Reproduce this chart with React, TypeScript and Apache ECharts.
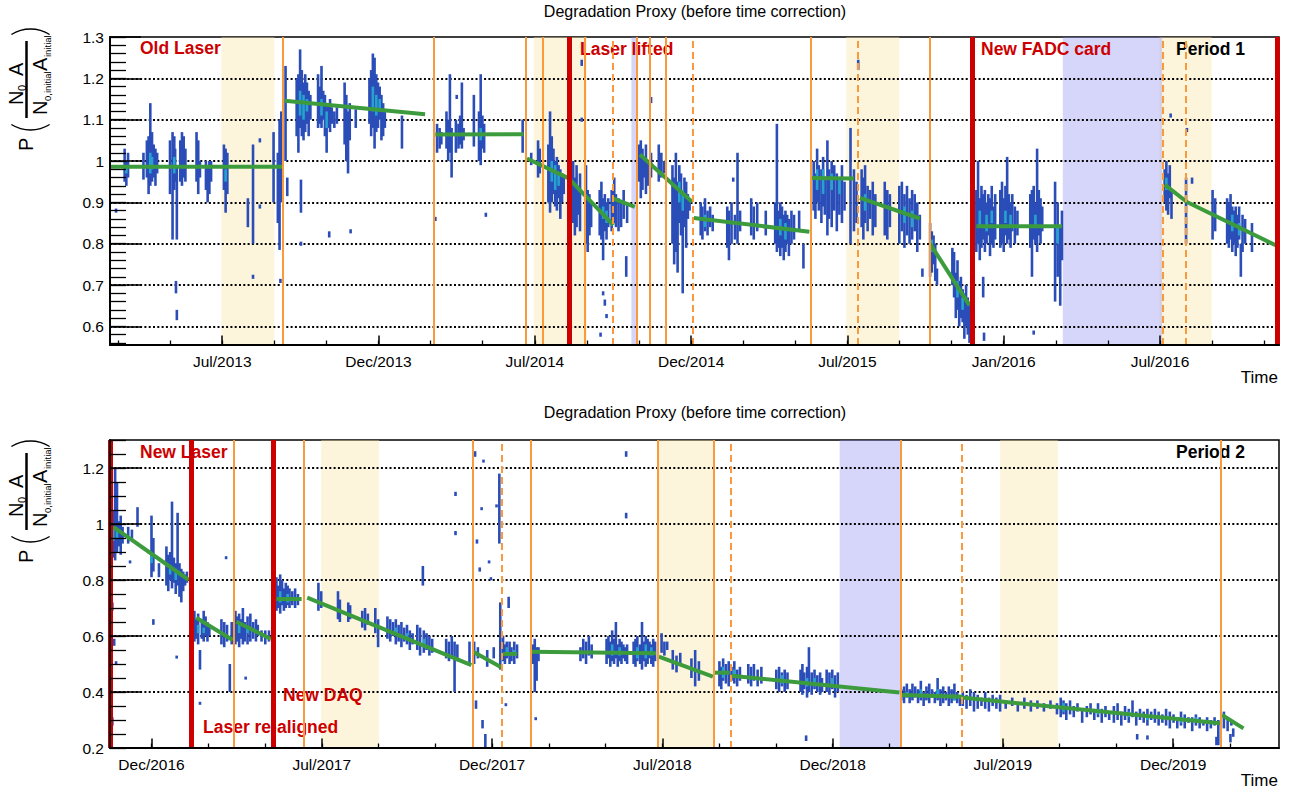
import React, { useEffect, useRef } from 'react';
import * as echarts from 'echarts';

type Streak = [string, number, number];
type Fit = [string, number, string, number];

const FONT = '"Liberation Sans", Arial, Helvetica, sans-serif';
const GREEN = '#3c9b3c';
const RED = '#cc0000';
const ORANGE = '#f99a3d';
const DARK = '#2a4db8';
const CORE = '#27a2cf';
const YELLOW_BAND = 'rgba(249,228,160,0.38)';
const BLUE_BAND = 'rgba(140,140,245,0.36)';

// ---------------- Period 1 (top) ----------------
const P1_X_RANGE: [string, string] = ['2013-02-20T22:00', '2016-11-17T14:00'];
const P1_X_TICKS = ['2013-07-02T00:00', '2013-12-31T14:24', '2014-07-02T04:48', '2014-12-31T19:12', '2015-07-02T09:36', '2016-01-01T00:00', '2016-07-01T14:24'];
const P1_X_LABELS = ['Jul/2013', 'Dec/2013', 'Jul/2014', 'Dec/2014', 'Jul/2015', 'Jan/2016', 'Jul/2016'];
const P1_Y_RANGE: [number, number] = [0.555, 1.3];
const P1_Y_LABELS = [0.6, 0.7, 0.8, 0.9, 1.0, 1.1, 1.2, 1.3];
const P1_GRID_LINES = [0.6, 0.7, 0.8, 0.9, 1.0, 1.1, 1.2];
const P1_RED_LINES = ['2014-08-12', '2015-11-25', '2016-11-16'];
const P1_ORANGE_LINES = ['2013-09-11', '2014-03-06', '2014-06-22', '2014-07-12', '2014-08-30', '2014-10-29', '2014-11-13', '2014-12-02', '2015-05-20', '2015-10-06'];
const P1_DASHED_LINES = ['2014-10-01', '2015-01-03', '2015-07-15', '2016-07-05', '2016-08-01'];
const P1_SUMMER_BANDS: [string, string][] = [['2013-07-01', '2013-09-01'], ['2014-07-01', '2014-09-01'], ['2015-07-01', '2015-09-01'], ['2016-07-01', '2016-08-31']];
const P1_PAUSE_BANDS: [string, string][] = [['2014-10-23', '2014-10-29'], ['2016-03-10', '2016-07-04']];
const P1_FITS: Fit[] = [
  ['2013-02-22', 0.986, '2013-09-10', 0.986],
  ['2013-09-13', 1.146, '2014-02-24', 1.113],
  ['2014-03-08', 1.064, '2014-06-19', 1.065],
  ['2014-06-23', 1.006, '2014-08-11', 0.958],
  ['2014-08-13', 0.953, '2014-10-02', 0.845],
  ['2014-10-02', 0.909, '2014-10-27', 0.889],
  ['2014-11-02', 1.016, '2015-01-02', 0.901],
  ['2015-01-04', 0.862, '2015-05-19', 0.829],
  ['2015-05-22', 0.959, '2015-07-10', 0.958],
  ['2015-07-17', 0.911, '2015-09-25', 0.861],
  ['2015-10-07', 0.800, '2015-11-22', 0.651],
  ['2015-11-30', 0.842, '2016-03-09', 0.842],
  ['2016-07-07', 0.943, '2016-08-02', 0.901],
  ['2016-08-02', 0.901, '2016-11-15', 0.795],
];
const P1_STREAKS: Streak[] = [
  ['2013-02-28', 0.875, 0.885],
  ['2013-03-10', 0.95, 1.03], ['2013-03-12', 0.94, 1.0], ['2013-03-14', 0.96, 1.02],
  ['2013-04-01', 0.955, 1.02],
  ['2013-04-05', 0.96, 1.05], ['2013-04-07', 0.92, 1.06], ['2013-04-09', 0.94, 1.14], ['2013-04-11', 0.95, 1.07], ['2013-04-13', 0.96, 1.04], ['2013-04-15', 0.94, 1.03], ['2013-04-17', 0.97, 1.02],
  ['2013-05-02', 0.92, 1.05], ['2013-05-05', 0.81, 1.07], ['2013-05-07', 0.93, 1.06], ['2013-05-08', 0.95, 1.03], ['2013-05-09', 0.68, 0.71], ['2013-05-10', 0.81, 0.99], ['2013-05-10', 0.615, 0.64],
  ['2013-05-14', 0.95, 1.05], ['2013-05-16', 0.94, 1.07], ['2013-05-18', 0.96, 1.06], ['2013-05-20', 0.95, 1.03],
  ['2013-06-02', 0.95, 1.07], ['2013-06-04', 0.92, 1.05], ['2013-06-06', 0.96, 1.0],
  ['2013-06-13', 0.93, 1.0], ['2013-06-15', 0.9, 0.99], ['2013-06-17', 0.92, 1.0], ['2013-06-19', 0.95, 1.0],
  ['2013-07-04', 0.93, 1.04], ['2013-07-06', 0.875, 1.03], ['2013-07-08', 0.92, 1.02],
  ['2013-08-01', 0.84, 0.91], ['2013-08-07', 0.8, 1.04], ['2013-08-07', 0.715, 0.725], ['2013-08-15', 1.045, 1.055], ['2013-08-15', 0.885, 0.895], ['2013-08-31', 0.9, 1.07],
  ['2013-09-05', 0.85, 1.02], ['2013-09-07', 0.785, 1.1], ['2013-09-08', 0.705, 0.715], ['2013-09-09', 0.9, 1.12],
  ['2013-09-14', 1.0, 1.23], ['2013-09-16', 0.915, 0.96],
  ['2013-09-27', 1.06, 1.2], ['2013-09-29', 1.02, 1.21], ['2013-10-01', 1.08, 1.27], ['2013-10-02', 0.875, 0.955], ['2013-10-02', 0.795, 0.805], ['2013-10-03', 1.06, 1.22], ['2013-10-05', 1.05, 1.19], ['2013-10-07', 1.07, 1.21], ['2013-10-09', 1.09, 1.19], ['2013-10-11', 1.06, 1.17], ['2013-10-13', 1.1, 1.16],
  ['2013-10-22', 1.08, 1.21], ['2013-10-24', 1.09, 1.18], ['2013-10-26', 1.08, 1.23], ['2013-10-28', 1.1, 1.17], ['2013-10-30', 1.06, 1.16], ['2013-11-01', 1.02, 1.14], ['2013-11-03', 1.08, 1.14], ['2013-11-04', 0.815, 0.83], ['2013-11-05', 1.07, 1.15], ['2013-11-07', 1.09, 1.13], ['2013-11-10', 1.08, 1.12], ['2013-11-13', 1.09, 1.13],
  ['2013-11-22', 1.04, 1.19], ['2013-11-24', 1.0, 1.16], ['2013-11-26', 0.97, 1.12], ['2013-11-28', 1.05, 1.14], ['2013-11-29', 0.825, 0.835], ['2013-12-05', 1.08, 1.125],
  ['2013-12-21', 1.09, 1.2], ['2013-12-23', 1.06, 1.22], ['2013-12-25', 1.08, 1.26], ['2013-12-27', 1.03, 1.25], ['2013-12-29', 1.07, 1.21], ['2013-12-31', 1.08, 1.19], ['2014-01-02', 1.1, 1.18], ['2014-01-04', 1.05, 1.16], ['2014-01-06', 1.06, 1.14], ['2014-01-08', 1.08, 1.12],
  ['2014-01-28', 1.03, 1.11],
  ['2014-03-08', 0.855, 0.865], ['2014-03-10', 1.02, 1.09], ['2014-03-13', 1.03, 1.08], ['2014-03-15', 1.04, 1.07],
  ['2014-03-21', 1.03, 1.12], ['2014-03-23', 1.0, 1.1], ['2014-03-25', 1.02, 1.21], ['2014-03-27', 0.96, 1.08],
  ['2014-04-01', 1.02, 1.1], ['2014-04-02', 1.15, 1.16], ['2014-04-04', 1.03, 1.09], ['2014-04-06', 1.04, 1.11], ['2014-04-08', 1.03, 1.19], ['2014-04-10', 1.05, 1.08],
  ['2014-04-22', 1.035, 1.16],
  ['2014-04-28', 1.0, 1.12], ['2014-04-30', 0.99, 1.21], ['2014-05-02', 1.03, 1.11], ['2014-05-04', 1.02, 1.09], ['2014-05-06', 0.865, 0.875],
  ['2014-06-18', 1.02, 1.1],
  ['2014-06-28', 0.99, 1.02], ['2014-07-06', 0.96, 1.05], ['2014-07-08', 0.97, 1.03],
  ['2014-07-18', 0.9, 1.04], ['2014-07-20', 0.875, 1.12], ['2014-07-22', 0.9, 1.06], ['2014-07-24', 0.92, 1.03], ['2014-07-26', 0.89, 1.0], ['2014-07-28', 0.88, 1.01], ['2014-07-30', 0.91, 0.99], ['2014-08-01', 0.86, 0.98], ['2014-08-03', 0.9, 0.97], ['2014-08-05', 0.92, 0.96],
  ['2014-08-16', 0.85, 1.0], ['2014-08-18', 0.82, 0.96], ['2014-08-20', 0.84, 0.99], ['2014-08-22', 0.87, 0.94], ['2014-08-24', 0.83, 0.97], ['2014-08-26', 1.095, 1.105], ['2014-08-26', 1.23, 1.245],
  ['2014-08-31', 0.8, 0.99], ['2014-09-02', 0.78, 0.93], ['2014-09-04', 0.82, 0.92], ['2014-09-06', 0.84, 0.9],
  ['2014-09-16', 0.82, 0.93], ['2014-09-18', 0.81, 0.95], ['2014-09-20', 0.76, 0.91], ['2014-09-22', 0.83, 0.92], ['2014-09-24', 0.81, 0.9], ['2014-09-26', 0.84, 0.91], ['2014-09-20', 0.675, 0.685], ['2014-09-22', 0.65, 0.665], ['2014-09-24', 0.62, 0.63], ['2014-09-17', 0.575, 0.585],
  ['2014-09-30', 0.83, 0.93], ['2014-10-03', 0.85, 0.96], ['2014-10-05', 0.84, 0.92], ['2014-10-08', 0.83, 0.91], ['2014-10-11', 0.84, 0.9], ['2014-10-14', 0.86, 0.93], ['2014-10-17', 0.72, 0.77], ['2014-10-18', 0.85, 0.9],
  ['2014-11-01', 0.95, 1.04], ['2014-11-03', 0.91, 1.05], ['2014-11-05', 0.93, 1.03], ['2014-11-07', 0.96, 1.01], ['2014-11-09', 0.92, 1.04], ['2014-11-11', 0.94, 1.0], ['2014-11-15', 0.96, 1.02], ['2014-11-15', 1.14, 1.155],
  ['2014-11-24', 0.95, 1.04], ['2014-11-27', 0.96, 1.02], ['2014-11-30', 0.97, 1.0],
  ['2014-12-10', 0.8, 0.99], ['2014-12-12', 0.75, 0.96], ['2014-12-14', 0.78, 1.02], ['2014-12-16', 0.73, 0.95], ['2014-12-18', 0.85, 0.99], ['2014-12-20', 0.82, 0.97], ['2014-12-22', 0.68, 0.93], ['2014-12-24', 0.84, 0.96], ['2014-12-26', 0.79, 0.95], ['2014-12-28', 0.86, 0.92], ['2014-12-30', 0.88, 0.91],
  ['2015-01-12', 0.82, 0.9], ['2015-01-14', 0.81, 0.89], ['2015-01-17', 0.83, 0.91], ['2015-01-20', 0.82, 0.88], ['2015-01-23', 0.84, 0.89], ['2015-01-26', 0.83, 0.87],
  ['2015-02-12', 0.79, 0.89], ['2015-02-14', 0.76, 0.88], ['2015-02-17', 0.8, 0.9], ['2015-02-19', 0.95, 0.96], ['2015-02-21', 0.81, 0.87], ['2015-02-24', 0.8, 1.02], ['2015-02-27', 0.83, 0.88],
  ['2015-03-12', 0.82, 0.91], ['2015-03-15', 0.81, 0.89], ['2015-03-19', 0.83, 0.9], ['2015-03-29', 0.82, 0.88],
  ['2015-04-09', 0.8, 0.9], ['2015-04-11', 0.78, 1.09], ['2015-04-13', 0.79, 0.88], ['2015-04-15', 0.77, 0.9], ['2015-04-17', 0.79, 0.89], ['2015-04-19', 0.76, 0.87], ['2015-04-21', 0.78, 0.88], ['2015-04-23', 0.8, 0.87], ['2015-04-25', 0.77, 0.86], ['2015-04-28', 0.8, 0.88], ['2015-05-01', 0.81, 0.87],
  ['2015-05-07', 0.83, 0.88], ['2015-05-12', 0.74, 0.8],
  ['2015-05-24', 0.88, 1.0], ['2015-05-26', 0.86, 0.97], ['2015-05-28', 0.9, 1.03], ['2015-05-30', 0.88, 0.99], ['2015-06-02', 0.85, 0.98], ['2015-06-04', 0.89, 1.01], ['2015-06-06', 0.87, 0.96], ['2015-06-09', 0.82, 1.05], ['2015-06-11', 0.86, 0.98], ['2015-06-14', 0.84, 1.0], ['2015-06-17', 0.88, 0.99], ['2015-06-20', 0.83, 0.97], ['2015-06-23', 0.87, 0.96], ['2015-06-26', 0.85, 0.99], ['2015-06-29', 0.88, 0.95],
  ['2015-07-06', 0.8, 1.08], ['2015-07-10', 0.83, 0.98], ['2015-07-13', 0.85, 0.95], ['2015-07-15', 1.22, 1.245],
  ['2015-07-19', 0.84, 0.98], ['2015-07-21', 0.81, 0.96], ['2015-07-23', 0.85, 0.99], ['2015-07-26', 0.83, 0.94], ['2015-07-29', 0.86, 0.93], ['2015-08-01', 0.82, 0.95], ['2015-08-04', 0.84, 0.92],
  ['2015-08-15', 0.82, 0.95], ['2015-08-18', 0.81, 0.93], ['2015-08-21', 0.84, 0.92],
  ['2015-09-01', 0.8, 0.94], ['2015-09-04', 0.83, 0.95], ['2015-09-07', 0.79, 0.92], ['2015-09-10', 0.82, 0.94], ['2015-09-13', 0.8, 0.91], ['2015-09-16', 0.81, 0.93], ['2015-09-19', 0.83, 0.92], ['2015-09-22', 0.78, 0.9], ['2015-09-25', 0.81, 0.87], ['2015-09-28', 0.72, 0.74],
  ['2015-10-07', 0.72, 0.85], ['2015-10-09', 0.73, 0.83], ['2015-10-11', 0.75, 0.82], ['2015-10-13', 0.71, 0.8], ['2015-10-15', 0.7, 0.74],
  ['2015-11-02', 0.7, 0.79], ['2015-11-04', 0.67, 0.78], ['2015-11-06', 0.62, 0.73], ['2015-11-08', 0.64, 0.76], ['2015-11-10', 0.6, 0.71], ['2015-11-12', 0.62, 0.72], ['2015-11-14', 0.61, 0.69], ['2015-11-16', 0.57, 0.68], ['2015-11-18', 0.6, 0.7], ['2015-11-20', 0.58, 0.67], ['2015-11-22', 0.56, 0.66],
  ['2015-11-30', 0.78, 0.93], ['2015-12-02', 0.8, 1.0], ['2015-12-04', 0.76, 0.91], ['2015-12-06', 0.79, 0.94], ['2015-12-08', 0.67, 0.72], ['2015-12-08', 0.81, 0.92], ['2015-12-09', 0.565, 0.585], ['2015-12-10', 0.78, 0.93], ['2015-12-12', 0.8, 0.9], ['2015-12-14', 0.82, 0.92], ['2015-12-16', 0.77, 0.91], ['2015-12-18', 0.8, 0.94], ['2015-12-20', 0.79, 0.89], ['2015-12-22', 0.81, 0.92],
  ['2015-12-28', 0.79, 0.93], ['2015-12-30', 0.8, 0.95], ['2016-01-01', 0.78, 0.91], ['2016-01-03', 0.82, 0.94], ['2016-01-05', 0.8, 1.01], ['2016-01-07', 0.81, 0.92], ['2016-01-09', 0.79, 0.9], ['2016-01-11', 0.83, 0.92], ['2016-01-14', 0.8, 0.89], ['2016-01-17', 0.82, 0.88],
  ['2016-02-01', 0.79, 0.92], ['2016-02-03', 0.72, 0.93], ['2016-02-05', 0.81, 0.94], ['2016-02-05', 0.58, 0.59], ['2016-02-07', 0.8, 0.9], ['2016-02-09', 0.78, 1.03], ['2016-02-11', 0.82, 0.93], ['2016-02-13', 0.8, 0.91], ['2016-02-15', 0.83, 0.89],
  ['2016-03-01', 0.66, 0.95], ['2016-03-04', 0.72, 0.9], ['2016-03-07', 0.65, 0.84], ['2016-03-09', 0.76, 0.88],
  ['2016-07-07', 0.9, 0.98], ['2016-07-09', 0.88, 1.0], ['2016-07-11', 0.87, 0.97], ['2016-07-13', 0.91, 0.99], ['2016-07-14', 1.105, 1.115], ['2016-07-15', 0.86, 0.93],
  ['2016-08-01', 0.8, 0.96], ['2016-08-02', 1.07, 1.08], ['2016-08-08', 0.945, 0.96],
  ['2016-09-01', 0.81, 0.93], ['2016-09-04', 0.83, 0.91],
  ['2016-09-18', 0.8, 0.91], ['2016-09-20', 0.79, 0.9], ['2016-09-22', 0.81, 0.92], ['2016-09-24', 0.78, 0.89], ['2016-09-26', 0.8, 0.88], ['2016-09-28', 0.77, 0.89], ['2016-09-30', 0.79, 0.87], ['2016-10-02', 0.81, 0.89], ['2016-10-04', 0.72, 0.8], ['2016-10-06', 0.78, 0.87], ['2016-10-09', 0.8, 0.86],
  ['2016-10-17', 0.78, 0.85],
];
const P1_CORES: Streak[] = [
  ['2013-03-12', 0.97, 0.99], ['2013-04-09', 0.97, 1.02], ['2013-04-11', 0.98, 1.01], ['2013-05-07', 0.97, 1.01], ['2013-07-06', 0.95, 0.98],
  ['2013-10-01', 1.11, 1.17], ['2013-10-05', 1.1, 1.16], ['2013-10-09', 1.12, 1.15], ['2013-10-26', 1.11, 1.15], ['2013-11-01', 1.08, 1.12],
  ['2013-12-25', 1.12, 1.18], ['2013-12-29', 1.11, 1.16], ['2014-01-02', 1.12, 1.15], ['2014-04-30', 1.05, 1.08],
  ['2014-07-22', 0.95, 1.0], ['2014-07-26', 0.93, 0.99], ['2014-07-30', 0.94, 0.97], ['2014-09-20', 0.86, 0.89], ['2014-09-24', 0.85, 0.88],
  ['2014-12-18', 0.9, 0.95], ['2014-12-22', 0.88, 0.93], ['2015-01-17', 0.84, 0.87], ['2015-04-15', 0.82, 0.86], ['2015-04-21', 0.81, 0.85],
  ['2015-05-28', 0.93, 0.98], ['2015-06-04', 0.92, 0.98], ['2015-06-14', 0.93, 0.97], ['2015-06-23', 0.92, 0.96], ['2015-07-23', 0.88, 0.92],
  ['2015-09-07', 0.85, 0.89], ['2015-09-16', 0.84, 0.88], ['2015-10-09', 0.78, 0.81], ['2015-11-08', 0.67, 0.71], ['2015-11-14', 0.64, 0.67],
  ['2015-12-04', 0.84, 0.88], ['2015-12-12', 0.83, 0.87], ['2015-12-18', 0.85, 0.88], ['2016-01-03', 0.85, 0.88], ['2016-01-09', 0.84, 0.87],
  ['2016-02-07', 0.84, 0.87], ['2016-03-04', 0.8, 0.84], ['2016-07-09', 0.93, 0.96], ['2016-09-24', 0.83, 0.87], ['2016-10-02', 0.82, 0.85],
];

// ---------------- Period 2 (bottom) ----------------
const P2_X_RANGE: [string, string] = ['2016-11-16T12:00', '2020-04-23T02:00'];
const P2_X_TICKS = ['2016-12-31T00:00', '2017-07-01T14:24', '2017-12-31T04:48', '2018-07-01T19:12', '2018-12-31T09:36', '2019-07-02T00:00', '2019-12-31T14:24'];
const P2_X_LABELS = ['Dec/2016', 'Jul/2017', 'Dec/2017', 'Jul/2018', 'Dec/2018', 'Jul/2019', 'Dec/2019'];
const P2_Y_RANGE: [number, number] = [0.2, 1.3];
const P2_Y_LABELS = [0.2, 0.4, 0.6, 0.8, 1.0, 1.2];
const P2_GRID_LINES = [0.4, 0.6, 0.8, 1.0, 1.2];
const P2_RED_LINES = ['2016-11-17', '2017-02-12', '2017-05-11'];
const P2_ORANGE_LINES = ['2017-03-29', '2017-06-12', '2017-12-10', '2018-02-11', '2018-06-27', '2018-08-26', '2019-03-14', '2020-02-21'];
const P2_DASHED_LINES = ['2018-01-11', '2018-09-13', '2019-05-19'];
const P2_SUMMER_BANDS: [string, string][] = [['2017-07-01', '2017-09-01'], ['2018-06-27', '2018-08-26'], ['2019-06-29', '2019-08-30']];
const P2_PAUSE_BANDS: [string, string][] = [['2019-01-08', '2019-03-14']];
const P2_FITS: Fit[] = [
  ['2016-11-20', 0.99, '2017-02-09', 0.8],
  ['2017-02-17', 0.665, '2017-03-28', 0.586],
  ['2017-04-01', 0.651, '2017-05-08', 0.589],
  ['2017-05-14', 0.732, '2017-06-10', 0.732],
  ['2017-06-16', 0.737, '2017-12-09', 0.496],
  ['2017-12-11', 0.544, '2018-01-10', 0.488],
  ['2018-01-12', 0.536, '2018-01-27', 0.536],
  ['2018-02-12', 0.544, '2018-06-25', 0.538],
  ['2018-06-28', 0.526, '2018-08-25', 0.455],
  ['2018-08-27', 0.469, '2018-09-12', 0.469],
  ['2018-09-14', 0.458, '2019-03-13', 0.398],
  ['2019-03-15', 0.389, '2019-05-19', 0.383],
  ['2019-05-19', 0.38, '2020-02-20', 0.288],
  ['2020-02-22', 0.318, '2020-03-16', 0.27],
];
const P2_STREAKS: Streak[] = [
  ['2016-11-18', 0.86, 1.02], ['2016-11-20', 0.88, 1.05], ['2016-11-22', 0.87, 1.2], ['2016-11-24', 0.9, 1.15], ['2016-11-26', 0.92, 1.01], ['2016-11-28', 0.89, 1.03], ['2016-11-30', 0.93, 0.99],
  ['2016-11-19', 0.69, 0.72], ['2016-11-21', 0.565, 0.59], ['2016-11-23', 0.5, 0.51], ['2016-11-19', 0.28, 0.31],
  ['2016-12-06', 0.93, 0.99], ['2016-12-08', 0.86, 0.87], ['2016-12-10', 0.94, 0.98], ['2016-12-16', 0.99, 1.06],
  ['2016-12-31', 0.81, 1.03], ['2017-01-02', 0.83, 0.95], ['2017-01-02', 0.64, 0.66], ['2017-01-08', 0.81, 0.86],
  ['2017-01-16', 0.78, 0.92], ['2017-01-18', 0.76, 0.89], ['2017-01-20', 0.8, 0.9], ['2017-01-22', 0.77, 1.08], ['2017-01-24', 0.79, 0.88], ['2017-01-26', 0.75, 0.86], ['2017-01-27', 0.52, 0.53], ['2017-01-28', 0.78, 1.04], ['2017-01-30', 0.74, 0.86], ['2017-02-01', 0.72, 0.84], ['2017-02-03', 0.76, 0.83], ['2017-02-05', 0.78, 0.82], ['2017-02-07', 0.79, 0.83],
  ['2017-02-15', 0.58, 0.69], ['2017-02-17', 0.59, 0.66], ['2017-02-19', 0.57, 0.68], ['2017-02-21', 0.48, 0.55], ['2017-02-21', 0.355, 0.365], ['2017-02-23', 0.59, 0.66], ['2017-02-25', 0.58, 0.69], ['2017-02-27', 0.6, 0.67], ['2017-03-01', 0.58, 0.65], ['2017-03-03', 0.6, 0.64],
  ['2017-03-16', 0.57, 0.66], ['2017-03-19', 0.56, 0.65], ['2017-03-21', 0.875, 0.885], ['2017-03-22', 0.58, 0.64], ['2017-03-25', 0.4, 0.5], ['2017-03-27', 0.57, 0.65],
  ['2017-03-31', 0.57, 0.69], ['2017-04-02', 0.58, 0.67], ['2017-04-04', 0.56, 0.68], ['2017-04-06', 0.59, 0.66], ['2017-04-08', 0.57, 0.7], ['2017-04-10', 0.58, 0.65], ['2017-04-11', 0.445, 0.455], ['2017-04-13', 0.57, 0.67], ['2017-04-16', 0.58, 0.68], ['2017-04-19', 0.59, 0.65], ['2017-04-22', 0.58, 0.66], ['2017-04-24', 0.6, 0.64],
  ['2017-04-28', 0.58, 0.62], ['2017-05-02', 0.57, 0.62], ['2017-05-06', 0.58, 0.62],
  ['2017-05-14', 0.69, 0.81], ['2017-05-16', 0.7, 0.78], ['2017-05-18', 0.68, 0.82], ['2017-05-20', 0.71, 0.8], ['2017-05-22', 0.69, 0.77], ['2017-05-24', 0.7, 0.79], ['2017-05-26', 0.71, 0.78], ['2017-05-28', 0.7, 0.77], ['2017-05-31', 0.71, 0.76], ['2017-06-03', 0.7, 0.77], ['2017-06-06', 0.71, 0.75],
  ['2017-06-28', 0.69, 0.79], ['2017-07-01', 0.7, 0.76], ['2017-07-19', 0.66, 0.76], ['2017-07-21', 0.65, 0.73], ['2017-07-30', 0.65, 0.72], ['2017-08-01', 0.66, 0.71],
  ['2017-08-14', 0.63, 0.69], ['2017-08-17', 0.62, 0.7], ['2017-08-20', 0.64, 0.68], ['2017-08-28', 0.61, 0.7], ['2017-08-31', 0.56, 0.66],
  ['2017-09-10', 0.59, 0.67], ['2017-09-13', 0.58, 0.66], ['2017-09-16', 0.6, 0.65], ['2017-09-19', 0.57, 0.66], ['2017-09-22', 0.58, 0.64], ['2017-09-25', 0.56, 0.65], ['2017-09-28', 0.58, 0.63], ['2017-10-01', 0.57, 0.64], ['2017-10-04', 0.55, 0.62], ['2017-10-07', 0.57, 0.61],
  ['2017-10-12', 0.55, 0.64], ['2017-10-15', 0.53, 0.63], ['2017-10-18', 0.78, 0.85], ['2017-10-19', 0.54, 0.62], ['2017-10-22', 0.55, 0.61], ['2017-10-25', 0.53, 0.6], ['2017-10-28', 0.54, 0.59],
  ['2017-11-12', 0.52, 0.59], ['2017-11-15', 0.51, 0.58], ['2017-11-18', 0.52, 0.6], ['2017-11-21', 0.4, 0.58], ['2017-11-22', 1.1, 1.115], ['2017-11-22', 0.96, 0.975], ['2017-11-24', 0.51, 0.57], ['2017-12-07', 0.5, 0.58],
  ['2017-12-12', 0.5, 0.58], ['2017-12-13', 1.24, 1.26], ['2017-12-14', 0.34, 0.37], ['2017-12-15', 0.93, 0.945], ['2017-12-16', 0.52, 0.56], ['2017-12-18', 0.83, 0.845], ['2017-12-20', 1.05, 1.06], ['2017-12-21', 0.27, 0.3], ['2017-12-22', 1.22, 1.23], ['2017-12-24', 0.2, 0.25], ['2017-12-26', 0.49, 0.55], ['2017-12-28', 0.86, 0.87], ['2017-12-30', 0.8, 0.81], ['2018-01-02', 0.52, 0.56], ['2018-01-05', 1.06, 1.07],
  ['2018-01-08', 0.93, 1.18], ['2018-01-09', 0.48, 0.72],
  ['2018-01-12', 0.51, 0.6], ['2018-01-14', 0.5, 0.57], ['2018-01-15', 0.35, 0.36], ['2018-01-16', 0.52, 0.58], ['2018-01-18', 0.7, 0.74], ['2018-01-19', 0.5, 0.58], ['2018-01-21', 0.51, 0.56], ['2018-01-24', 0.5, 0.58], ['2018-01-27', 0.52, 0.57],
  ['2018-02-13', 0.5, 0.57], ['2018-02-15', 0.4, 0.59], ['2018-02-16', 0.3, 0.31], ['2018-02-17', 0.44, 0.56], ['2018-02-19', 0.51, 0.56],
  ['2018-04-05', 0.51, 0.56], ['2018-04-08', 0.52, 0.59], ['2018-04-11', 0.5, 0.58], ['2018-04-14', 0.53, 0.6], ['2018-04-17', 0.52, 0.57],
  ['2018-05-03', 0.5, 0.59], ['2018-05-05', 0.52, 0.6], ['2018-05-07', 0.49, 0.58], ['2018-05-09', 0.51, 0.62], ['2018-05-11', 0.5, 0.59], ['2018-05-13', 0.52, 0.65], ['2018-05-15', 0.49, 0.57], ['2018-05-17', 0.51, 0.59], ['2018-05-19', 0.5, 0.58], ['2018-05-21', 0.52, 0.57], ['2018-05-23', 0.51, 0.56], ['2018-05-25', 0.5, 0.57],
  ['2018-05-24', 1.24, 1.26], ['2018-05-24', 1.02, 1.04],
  ['2018-06-01', 0.5, 0.58], ['2018-06-03', 0.49, 0.59], ['2018-06-05', 0.51, 0.6], ['2018-06-08', 0.5, 0.57], ['2018-06-10', 0.48, 0.65], ['2018-06-12', 0.51, 0.58], ['2018-06-14', 0.49, 0.6], ['2018-06-16', 0.5, 0.59], ['2018-06-18', 0.52, 0.58], ['2018-06-20', 0.5, 0.57], ['2018-06-22', 0.49, 0.59], ['2018-06-24', 0.51, 0.58],
  ['2018-07-01', 0.54, 0.61], ['2018-07-04', 0.53, 0.58], ['2018-07-07', 0.55, 0.58], ['2018-07-13', 0.48, 0.55], ['2018-07-17', 0.47, 0.53], ['2018-07-21', 0.5, 0.54],
  ['2018-08-02', 0.45, 0.52], ['2018-08-06', 0.42, 0.55], ['2018-08-10', 0.44, 0.51],
  ['2018-09-01', 0.42, 0.51], ['2018-09-03', 0.41, 0.49], ['2018-09-05', 0.44, 0.52], ['2018-09-08', 0.43, 0.5], ['2018-09-11', 0.42, 0.51], ['2018-09-14', 0.44, 0.49], ['2018-09-17', 0.43, 0.51], ['2018-09-20', 0.42, 0.48], ['2018-09-23', 0.44, 0.49],
  ['2018-10-02', 0.43, 0.5], ['2018-10-05', 0.42, 0.49], ['2018-10-08', 0.44, 0.5], ['2018-10-12', 0.42, 0.48], ['2018-10-16', 0.43, 0.49],
  ['2018-11-01', 0.41, 0.48], ['2018-11-04', 0.4, 0.49], ['2018-11-07', 0.42, 0.47], ['2018-11-10', 0.4, 0.48], ['2018-11-13', 0.41, 0.47],
  ['2018-11-27', 0.4, 0.48], ['2018-11-29', 0.39, 0.5], ['2018-12-01', 0.41, 0.47], ['2018-12-03', 0.225, 0.245], ['2018-12-04', 0.38, 0.49], ['2018-12-06', 0.4, 0.56], ['2018-12-09', 0.39, 0.47], ['2018-12-12', 0.41, 0.48], ['2018-12-15', 0.4, 0.46], ['2018-12-18', 0.39, 0.47], ['2018-12-20', 0.4, 0.45],
  ['2018-12-25', 0.4, 0.48], ['2018-12-28', 0.39, 0.47], ['2018-12-31', 0.41, 0.48], ['2019-01-03', 0.38, 0.46], ['2019-01-06', 0.4, 0.47],
  ['2019-03-15', 0.37, 0.41], ['2019-03-18', 0.36, 0.42], ['2019-03-21', 0.38, 0.43], ['2019-03-24', 0.36, 0.41], ['2019-03-27', 0.37, 0.43], ['2019-03-30', 0.38, 0.42], ['2019-04-02', 0.36, 0.41], ['2019-04-05', 0.37, 0.44], ['2019-04-08', 0.35, 0.4], ['2019-04-11', 0.37, 0.42], ['2019-04-14', 0.36, 0.43], ['2019-04-17', 0.38, 0.41], ['2019-04-20', 0.36, 0.4], ['2019-04-23', 0.37, 0.45], ['2019-04-26', 0.35, 0.41], ['2019-04-29', 0.36, 0.42], ['2019-05-02', 0.37, 0.4], ['2019-05-05', 0.35, 0.42], ['2019-05-08', 0.36, 0.41], ['2019-05-11', 0.37, 0.43], ['2019-05-14', 0.36, 0.4], ['2019-05-17', 0.35, 0.39],
  ['2019-05-20', 0.35, 0.4], ['2019-05-24', 0.34, 0.39], ['2019-05-28', 0.35, 0.41], ['2019-06-01', 0.33, 0.4], ['2019-06-05', 0.34, 0.39], ['2019-06-09', 0.35, 0.38], ['2019-06-13', 0.34, 0.4], ['2019-06-17', 0.33, 0.38], ['2019-06-21', 0.35, 0.39], ['2019-06-25', 0.34, 0.38], ['2019-06-29', 0.33, 0.39], ['2019-07-05', 0.34, 0.37], ['2019-07-12', 0.35, 0.38], ['2019-07-18', 0.33, 0.36], ['2019-07-25', 0.34, 0.38], ['2019-08-01', 0.33, 0.37], ['2019-08-08', 0.34, 0.37], ['2019-08-15', 0.33, 0.36], ['2019-08-22', 0.34, 0.37], ['2019-08-29', 0.32, 0.36],
  ['2019-09-02', 0.31, 0.38], ['2019-09-05', 0.32, 0.37], ['2019-09-08', 0.3, 0.36], ['2019-09-12', 0.32, 0.37], ['2019-09-16', 0.31, 0.35], ['2019-09-20', 0.33, 0.36], ['2019-09-25', 0.29, 0.34], ['2019-09-30', 0.31, 0.35], ['2019-10-04', 0.32, 0.36], ['2019-10-08', 0.3, 0.34], ['2019-10-12', 0.31, 0.36], ['2019-10-16', 0.29, 0.34], ['2019-10-20', 0.31, 0.35], ['2019-10-24', 0.3, 0.33],
  ['2019-10-29', 0.29, 0.35], ['2019-11-02', 0.3, 0.36], ['2019-11-06', 0.28, 0.33], ['2019-11-10', 0.3, 0.35], ['2019-11-14', 0.29, 0.34], ['2019-11-18', 0.31, 0.37], ['2019-11-22', 0.28, 0.33], ['2019-11-23', 0.23, 0.25], ['2019-11-26', 0.3, 0.34], ['2019-11-30', 0.29, 0.33], ['2019-12-04', 0.28, 0.34], ['2019-12-04', 0.23, 0.245], ['2019-12-08', 0.3, 0.33], ['2019-12-12', 0.29, 0.34], ['2019-12-16', 0.28, 0.33], ['2019-12-20', 0.29, 0.32],
  ['2019-12-24', 0.28, 0.34], ['2019-12-28', 0.27, 0.33], ['2020-01-01', 0.29, 0.32], ['2020-01-05', 0.27, 0.31], ['2020-01-09', 0.28, 0.33], ['2020-01-13', 0.27, 0.32], ['2020-01-17', 0.29, 0.31], ['2020-01-21', 0.26, 0.31], ['2020-01-25', 0.28, 0.32], ['2020-01-29', 0.27, 0.31], ['2020-02-02', 0.28, 0.3], ['2020-02-06', 0.26, 0.31], ['2020-02-10', 0.27, 0.3], ['2020-02-14', 0.28, 0.31], ['2020-02-16', 0.21, 0.24], ['2020-02-18', 0.21, 0.3],
  ['2020-02-24', 0.27, 0.33], ['2020-02-28', 0.26, 0.31], ['2020-03-02', 0.22, 0.25], ['2020-03-03', 0.28, 0.3], ['2020-03-05', 0.24, 0.27],
];
const P2_CORES: Streak[] = [
  ['2016-11-20', 0.94, 0.99], ['2016-11-24', 0.95, 0.98], ['2016-12-31', 0.86, 0.89], ['2017-01-20', 0.82, 0.85], ['2017-01-26', 0.8, 0.84],
  ['2017-02-19', 0.61, 0.64], ['2017-02-25', 0.61, 0.63], ['2017-04-04', 0.61, 0.64], ['2017-04-13', 0.61, 0.63], ['2017-05-18', 0.72, 0.76], ['2017-05-26', 0.72, 0.75],
  ['2017-09-19', 0.6, 0.63], ['2017-10-01', 0.59, 0.61], ['2017-10-19', 0.56, 0.59], ['2018-01-16', 0.53, 0.56], ['2018-01-24', 0.53, 0.55],
  ['2018-05-09', 0.53, 0.57], ['2018-05-17', 0.53, 0.56], ['2018-06-05', 0.52, 0.56], ['2018-06-14', 0.52, 0.57], ['2018-06-20', 0.53, 0.56],
  ['2018-09-05', 0.45, 0.49], ['2018-09-17', 0.45, 0.48], ['2018-11-07', 0.43, 0.46], ['2018-12-04', 0.42, 0.45], ['2018-12-12', 0.42, 0.45], ['2018-12-31', 0.42, 0.45],
  ['2019-03-21', 0.38, 0.4], ['2019-04-05', 0.38, 0.41], ['2019-04-23', 0.38, 0.41], ['2019-05-11', 0.37, 0.39], ['2019-09-05', 0.33, 0.36], ['2019-10-12', 0.32, 0.34],
  ['2019-11-14', 0.31, 0.33], ['2019-12-04', 0.3, 0.32], ['2020-01-09', 0.29, 0.31], ['2020-01-25', 0.29, 0.31],
];

// ---------------- helpers ----------------
function ts(s: string): number {
  return Date.parse(s.length === 10 ? `${s}T00:00:00Z` : `${s}:00Z`);
}

function stepTicks(first: number, step: number, lo: number, hi: number): number[] {
  const out: number[] = [];
  let v = first - step * Math.floor((first - lo) / step + 1e-9);
  for (; v <= hi + step * 1e-6; v += step) out.push(+v.toFixed(6));
  return out;
}

function txt(text: string, x: number, y: number, size: number, opts: any = {}) {
  return {
    type: 'text', x, y, z: opts.z ?? 40, silent: true,
    style: {
      text, fill: opts.color ?? '#000',
      font: `${opts.bold ? 'bold ' : ''}${size}px ${FONT}`,
      align: opts.align ?? 'left', verticalAlign: 'middle',
      textAlign: opts.align ?? 'left', textVerticalAlign: 'middle',
    },
  };
}

function yTitle(oy: number) {
  const arcStyle = { stroke: '#000', lineWidth: 1.4, fill: 'none' };
  return {
    type: 'group', x: 0, y: oy, rotation: Math.PI / 2, silent: true,
    children: [
      txt('P', 9, 26, 20),
      { type: 'arc', z: 40, shape: { cx: 66, cy: 30.5, r: 36, startAngle: Math.PI - 0.56, endAngle: Math.PI + 0.56, clockwise: true }, style: arcStyle },
      txt('N', 55, 15.5, 20), txt('0', 69, 22, 11), txt('A', 84, 15.5, 20),
      { type: 'line', z: 40, shape: { x1: 42, y1: 26.5, x2: 119, y2: 26.5 }, style: { stroke: '#000', lineWidth: 2.5 } },
      txt('N', 45, 39.5, 20), txt('0,initial', 59, 47, 9.5), txt('A', 89, 39.5, 20), txt('initial', 103, 47, 9.5),
      { type: 'arc', z: 40, shape: { cx: 95, cy: 30.5, r: 36, startAngle: -0.56, endAngle: 0.56, clockwise: true }, style: arcStyle },
    ],
  };
}

function panel(k: number, cfg: any) {
  const xi = k * 2;
  const yi = k * 2;
  const xMin = ts(cfg.xRange[0]);
  const xMax = ts(cfg.xRange[1]);
  const majors = cfg.xTicks.map(ts);
  const minors = stepTicks(majors[0], (majors[1] - majors[0]) / 3, xMin, xMax);
  const yMinors = stepTicks(cfg.yLabels[0], cfg.yMinorStep, cfg.yRange[0], cfg.yRange[1]);

  const grid = { left: 110, width: 1169, top: cfg.top, height: 308, show: true, borderColor: '#000', borderWidth: 1.5, backgroundColor: 'transparent', containLabel: false, outerBoundsMode: 'none' };

  const xAxes = [
    {
      type: 'value', gridIndex: k, min: xMin, max: xMax, position: 'bottom', z: 10,
      axisLine: { show: true, onZero: false, lineStyle: { color: '#000', width: 2 } },
      axisTick: { show: true, inside: true, length: 9.5, customValues: majors, lineStyle: { color: '#000', width: 1.5 } },
      axisLabel: {
        show: true, customValues: majors, margin: 8, color: '#000', fontSize: 15.5, fontFamily: FONT,
        formatter: (v: number) => {
          let best = 0;
          majors.forEach((m: number, i: number) => { if (Math.abs(m - v) < Math.abs(majors[best] - v)) best = i; });
          return cfg.xLabels[best];
        },
      },
      splitLine: { show: false },
    },
    {
      type: 'value', gridIndex: k, min: xMin, max: xMax, position: 'bottom', offset: 0, z: 10,
      axisLine: { show: false }, axisLabel: { show: false }, splitLine: { show: false },
      axisTick: { show: true, inside: true, length: 4.5, customValues: minors, lineStyle: { color: '#000', width: 1.3 } },
    },
  ];
  const yAxes = [
    {
      type: 'value', gridIndex: k, min: cfg.yRange[0], max: cfg.yRange[1], position: 'left', z: 10,
      axisLine: { show: true, onZero: false, lineStyle: { color: '#000', width: 2 } },
      axisTick: { show: true, inside: true, length: 31, customValues: cfg.yLabels, lineStyle: { color: '#000', width: 1.5 } },
      axisLabel: {
        show: true, customValues: cfg.yLabels, margin: 6, color: '#000', fontSize: 15.5, fontFamily: FONT,
        formatter: (v: number) => String(parseFloat(Number(v).toFixed(2))),
      },
      splitLine: { show: false },
    },
    {
      type: 'value', gridIndex: k, min: cfg.yRange[0], max: cfg.yRange[1], position: 'left', offset: 0, z: 10,
      axisLine: { show: false }, axisLabel: { show: false }, splitLine: { show: false },
      axisTick: { show: true, inside: true, length: 16, customValues: yMinors, lineStyle: { color: '#000', width: 1.3 } },
    },
  ];

  const dummy = [[xMin, cfg.yRange[0]]];
  const streakRender = (color: string, w: number) => (params: any, api: any) => {
    const top = api.coord([api.value(0), api.value(2)]);
    const bot = api.coord([api.value(0), api.value(1)]);
    return { type: 'rect', shape: { x: top[0] - w / 2, y: top[1], width: w, height: Math.max(bot[1] - top[1], 3) }, style: { fill: color } };
  };

  const series = [
    {
      type: 'line', xAxisIndex: xi, yAxisIndex: yi, data: dummy, symbol: 'none', silent: true,
      lineStyle: { opacity: 0 },
      markArea: {
        silent: true, z: 1,
        data: [
          ...cfg.summer.map((b: [string, string]) => [{ xAxis: ts(b[0]), itemStyle: { color: YELLOW_BAND } }, { xAxis: ts(b[1]) }]),
          ...cfg.pause.map((b: [string, string]) => [{ xAxis: ts(b[0]), itemStyle: { color: BLUE_BAND } }, { xAxis: ts(b[1]) }]),
        ],
      },
    },
    {
      type: 'line', xAxisIndex: xi, yAxisIndex: yi, data: dummy, symbol: 'none', silent: true,
      lineStyle: { opacity: 0 },
      markLine: {
        silent: true, z: 2, symbol: ['none', 'none'], label: { show: false },
        lineStyle: { color: '#000', width: 1.8, type: [2, 2.3] },
        data: cfg.gridLines.map((v: number) => ({ yAxis: v })),
      },
    },
    {
      type: 'custom', name: 'data', xAxisIndex: xi, yAxisIndex: yi, z: 3, silent: true,
      data: cfg.streaks.map((d: Streak) => [ts(d[0]), d[1], d[2]]),
      encode: { x: 0, y: [1, 2] },
      renderItem: streakRender(DARK, 2.6),
    },
    {
      type: 'custom', name: 'core', xAxisIndex: xi, yAxisIndex: yi, z: 4, silent: true,
      data: cfg.cores.map((d: Streak) => [ts(d[0]), d[1], d[2]]),
      encode: { x: 0, y: [1, 2] },
      renderItem: streakRender(CORE, 2.6),
    },
    {
      type: 'custom', name: 'fit', xAxisIndex: xi, yAxisIndex: yi, z: 5, silent: true,
      data: cfg.fits.map((f: Fit) => [ts(f[0]), f[1], ts(f[2]), f[3]]),
      encode: { x: [0, 2], y: [1, 3] },
      renderItem: (params: any, api: any) => {
        const a = api.coord([api.value(0), api.value(1)]);
        const b = api.coord([api.value(2), api.value(3)]);
        return { type: 'line', shape: { x1: a[0], y1: a[1], x2: b[0], y2: b[1] }, style: { stroke: GREEN, lineWidth: 4 } };
      },
    },
    {
      type: 'line', xAxisIndex: xi, yAxisIndex: yi, data: dummy, symbol: 'none', silent: true,
      lineStyle: { opacity: 0 },
      markLine: {
        silent: true, z: 6, symbol: ['none', 'none'], label: { show: false },
        data: [
          ...cfg.orange.map((d: string) => ({ xAxis: ts(d), lineStyle: { color: ORANGE, width: 2, type: 'solid' } })),
          ...cfg.dashed.map((d: string) => ({ xAxis: ts(d), lineStyle: { color: ORANGE, width: 2, type: [7, 4] } })),
          ...cfg.red.map((d: string) => ({ xAxis: ts(d), lineStyle: { color: RED, width: 5, type: 'solid' } })),
        ],
      },
    },
  ];
  return { grid, xAxes, yAxes, series };
}

export default function App() {
  const ref = useRef<HTMLDivElement>(null);
  useEffect(() => {
    if (!ref.current) return;
    const chart = echarts.init(ref.current, undefined, { renderer: 'svg' });
    const a = panel(0, {
      top: 37, xRange: P1_X_RANGE, xTicks: P1_X_TICKS, xLabels: P1_X_LABELS, yRange: P1_Y_RANGE,
      yLabels: P1_Y_LABELS, yMinorStep: 0.02, gridLines: P1_GRID_LINES, red: P1_RED_LINES, orange: P1_ORANGE_LINES,
      dashed: P1_DASHED_LINES, summer: P1_SUMMER_BANDS, pause: P1_PAUSE_BANDS, fits: P1_FITS, streaks: P1_STREAKS, cores: P1_CORES,
    });
    const b = panel(1, {
      top: 440, xRange: P2_X_RANGE, xTicks: P2_X_TICKS, xLabels: P2_X_LABELS, yRange: P2_Y_RANGE,
      yLabels: P2_Y_LABELS, yMinorStep: 0.05, gridLines: P2_GRID_LINES, red: P2_RED_LINES, orange: P2_ORANGE_LINES,
      dashed: P2_DASHED_LINES, summer: P2_SUMMER_BANDS, pause: P2_PAUSE_BANDS, fits: P2_FITS, streaks: P2_STREAKS, cores: P2_CORES,
    });
    const title = 'Degradation Proxy (before time correction)';
    chart.setOption({
      animation: false,
      backgroundColor: '#fff',
      grid: [a.grid, b.grid],
      xAxis: [...a.xAxes, ...b.xAxes],
      yAxis: [...a.yAxes, ...b.yAxes],
      series: [...a.series, ...b.series],
      graphic: [
        txt(title, 695, 11, 16, { align: 'center' }),
        txt(title, 695, 412, 16, { align: 'center' }),
        txt('Time', 1278, 377, 17, { align: 'right' }),
        txt('Time', 1278, 780, 17, { align: 'right' }),
        txt('Old Laser', 140, 48, 17.5, { bold: true, color: RED, z: 5 }),
        txt('Laser lifted', 580, 49, 17.5, { bold: true, color: RED, z: 5 }),
        txt('New FADC card', 981, 49, 17.5, { bold: true, color: RED, z: 5 }),
        txt('Period 1', 1176, 49, 17.5, { bold: true, z: 5 }),
        txt('New Laser', 140, 452, 17.5, { bold: true, color: RED, z: 5 }),
        txt('Period 2', 1176, 452, 17.5, { bold: true, z: 5 }),
        txt('New DAQ', 283, 695, 17.5, { bold: true, color: RED, z: 5 }),
        txt('Laser re-aligned', 203, 727, 17.5, { bold: true, color: RED, z: 5 }),
        yTitle(160),
        yTitle(572),
      ],
    });
    return () => chart.dispose();
  }, []);
  return <div ref={ref} style={{ position: 'fixed', left: 0, top: 0, width: 1294, height: 795, background: '#fff' }} />;
}
